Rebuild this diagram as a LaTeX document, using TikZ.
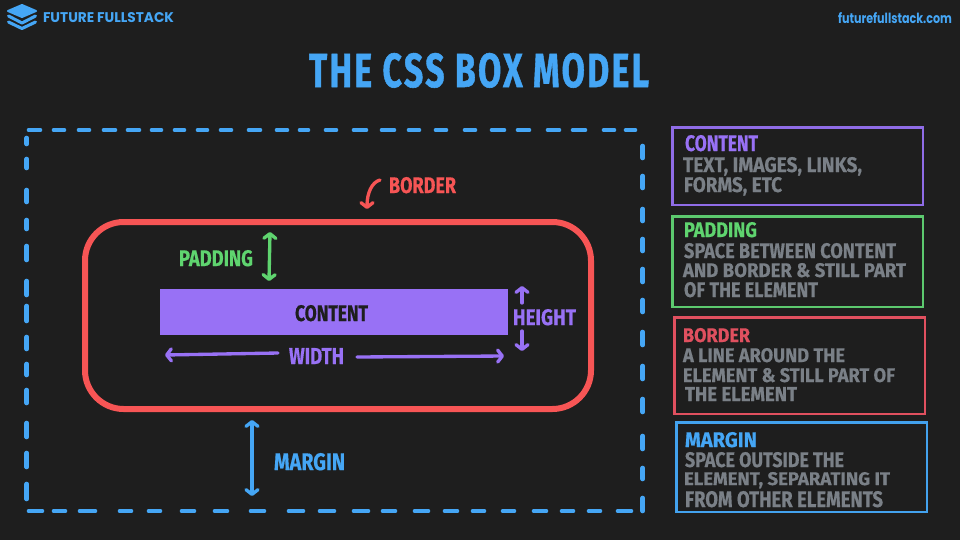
\documentclass[tikz,border=0pt]{standalone}
\usepackage{fontspec}
\usepackage{graphicx}
\usetikzlibrary{arrows.meta}
\setmainfont{Fira Sans}[BoldFeatures={FakeBold=0.5}]
\newfontfamily\popp{Poppins}
\newfontfamily\titlef{Fira Sans}[BoldFeatures={FakeBold=1.2,LetterSpace=7}]
\definecolor{bgc}{HTML}{1E1E1E}
\definecolor{blu}{HTML}{45A6F5}
\definecolor{redc}{HTML}{F75555}
\definecolor{pur}{HTML}{9871F5}
\definecolor{grn}{HTML}{5FD46F}
\definecolor{gry}{HTML}{7A8087}
\definecolor{pbox}{HTML}{8F6CE6}
\definecolor{gbox}{HTML}{5CC96E}
\definecolor{rbox}{HTML}{E0505F}
\definecolor{bbox}{HTML}{43A2EE}
\tikzset{
  txt/.style={inner sep=0pt,outer sep=0pt,anchor=base west},
  dashline/.style={draw=blu,line width=3.5pt,line cap=round},
  panel/.style={line width=2.2pt,line join=miter},
  arr/.style={line width=2.5pt,line cap=round,-{Straight Barb[length=3.5pt,width=9pt,round]}},
  dblarr/.style={line width=2.5pt,line cap=round,{Straight Barb[length=3.5pt,width=9pt,round]}-{Straight Barb[length=3.5pt,width=9pt,round]}},
}
\newcommand{\lbl}[7]{%
  \pgfmathsetmacro\ww{(#4-#2)*0.75}%
  \pgfmathsetmacro\hh{(#5-#3)*0.75}%
  \node[txt,text=#6] (#1) at (#2,#5) {\resizebox{\ww pt}{\hh pt}{#7}};%
}
\begin{document}
\begin{tikzpicture}[x=0.75pt,y=-0.75pt]
\useasboundingbox (0,0) rectangle (960,540);
\fill[bgc] (0,0) rectangle (960,540);
% logo
\fill[blu,draw=blu,line width=1.5pt,line join=round] (22,5) -- (36,11) -- (22,17) -- (8,11) -- cycle;
\draw[blu,line width=2.3pt,line join=round,line cap=round] (8.5,16) -- (22,23) -- (35.5,16);
\draw[blu,line width=2.3pt,line join=round,line cap=round] (8.5,22) -- (22,28.5) -- (35.5,22);
\lbl{brand}{43}{12}{174}{22}{blu}{\popp\bfseries FUTURE FULLSTACK}
\lbl{site}{838}{12}{952}{23}{blu}{\popp\bfseries futurefullstack.com}
\lbl{title}{309}{53}{649}{87}{blu}{\titlef\bfseries THE CSS BOX MODEL}
% dashed margin
\foreach \a/\b in {27/42,52/66,77/91,102/117,126/141,150/163,173/186,196/209,219/233,247/262,275/289,298/310,324/338,352/368,380/396,407/421,434/448,463/477,490/506,516/531,546/561,571/587,602/616,624/637}
  \draw[dashline] (\a+2,130) -- (\b-2,130);
\foreach \a/\b in {27/44,52/67,78/97,118/133,147/162,180/196,213/229,249/266,287/305,318/336,352/370,381/397,413/430,443/459,471/486,501/516,532/548,560/575,587/602,616/633}
  \draw[dashline] (\a+2,511) -- (\b-2,511);
\foreach \a/\b in {136/146,157/170,188/204,218/231,244/262,279/297,304/323,335/351,362/377,388/405,421/439,451/469,482/501}
  \draw[dashline] (26.7,\a+2) -- (26.7,\b-2);
\foreach \a/\b in {144/160,174/190,207/223,237/253,267/284,298/314,330/347,364/381,397/414,434/451,466/481,496/513}
  \draw[dashline] (642.7,\a+2) -- (642.7,\b-2);
% border box and content
\draw[redc,line width=4.5pt,rounded corners=29pt] (85,222) rectangle (591,409);
\fill[pur] (160,289) rectangle (508,335);
\lbl{contentlab}{295}{305}{368}{321}{bgc}{\bfseries CONTENT}
\lbl{paddinglab}{179}{250}{253}{266}{grn}{\bfseries PADDING}
\lbl{borderlab}{389}{177}{456}{193}{redc}{\bfseries BORDER}
\lbl{widthlab}{289}{348}{344}{364}{pur}{\bfseries WIDTH}
\lbl{heightlab}{513}{309}{576}{325}{pur}{\bfseries HEIGHT}
\lbl{marginlab}{274}{453}{345}{470}{blu}{\bfseries MARGIN}
% connectors
\coordinate (padtop) at (270,232);
\coordinate (padbot) at (269,281);
\coordinate (martop) at (252,420);
\coordinate (marbot) at (252,496);
\coordinate (bstart) at (380,180);
\coordinate (bend) at (367,209);
\coordinate (wls) at (278,353);
\coordinate (wle) at (165,355);
\coordinate (wrs) at (357,357);
\coordinate (wre) at (504,356);
\coordinate (hus) at (522,303);
\coordinate (hue) at (522,286);
\coordinate (hds) at (522,331);
\coordinate (hde) at (522,351);
\draw[dblarr,grn] (padtop) -- (padbot);
\draw[dblarr,blu] (martop) -- (marbot);
\draw[arr,redc] (bstart) .. controls (372,182) and (367,193) .. (bend);
\draw[arr,pur] (wls) -- (wle);
\draw[arr,pur] (wrs) -- (wre);
\draw[arr,pur] (hus) -- (hue);
\draw[arr,pur] (hds) -- (hde);
% panels
\draw[panel,pbox] (672.5,127.5) rectangle (923,205);
\lbl{c1}{685}{135}{758}{151}{pur}{\bfseries CONTENT}
\lbl{c2}{683}{157}{862}{172}{gry}{\bfseries TEXT, IMAGES, LINKS,}
\lbl{c3}{684}{177}{782}{192}{gry}{\bfseries FORMS, ETC}
\draw[panel,gbox] (672.5,216.5) rectangle (923,307);
\lbl{p1}{684}{222}{757}{237}{grn}{\bfseries PADDING}
\lbl{p2}{684}{243}{896}{258}{gry}{\bfseries SPACE BETWEEN CONTENT}
\lbl{p3}{683}{263}{906}{277}{gry}{\bfseries AND BORDER \& STILL PART}
\lbl{p4}{684}{282}{818}{297}{gry}{\bfseries OF THE ELEMENT}
\draw[panel,rbox] (674.5,317.5) rectangle (925,414);
\lbl{b1}{683}{328}{750}{342}{rbox}{\bfseries BORDER}
\lbl{b2}{683}{348}{845}{362}{gry}{\bfseries A LINE AROUND THE}
\lbl{b3}{683}{368}{895}{382}{gry}{\bfseries ELEMENT \& STILL PART OF}
\lbl{b4}{685}{387}{797}{401}{gry}{\bfseries THE ELEMENT}
\draw[panel,bbox] (676.5,422.5) rectangle (927,512);
\lbl{m1}{685}{432}{757}{447}{blu}{\bfseries MARGIN}
\lbl{m2}{685}{452}{844}{467}{gry}{\bfseries SPACE OUTSIDE THE}
\lbl{m3}{684}{472}{890}{485}{gry}{\bfseries ELEMENT, SEPARATING IT}
\lbl{m4}{685}{491}{883}{507}{gry}{\bfseries FROM OTHER ELEMENTS}
\end{tikzpicture}
\end{document}
